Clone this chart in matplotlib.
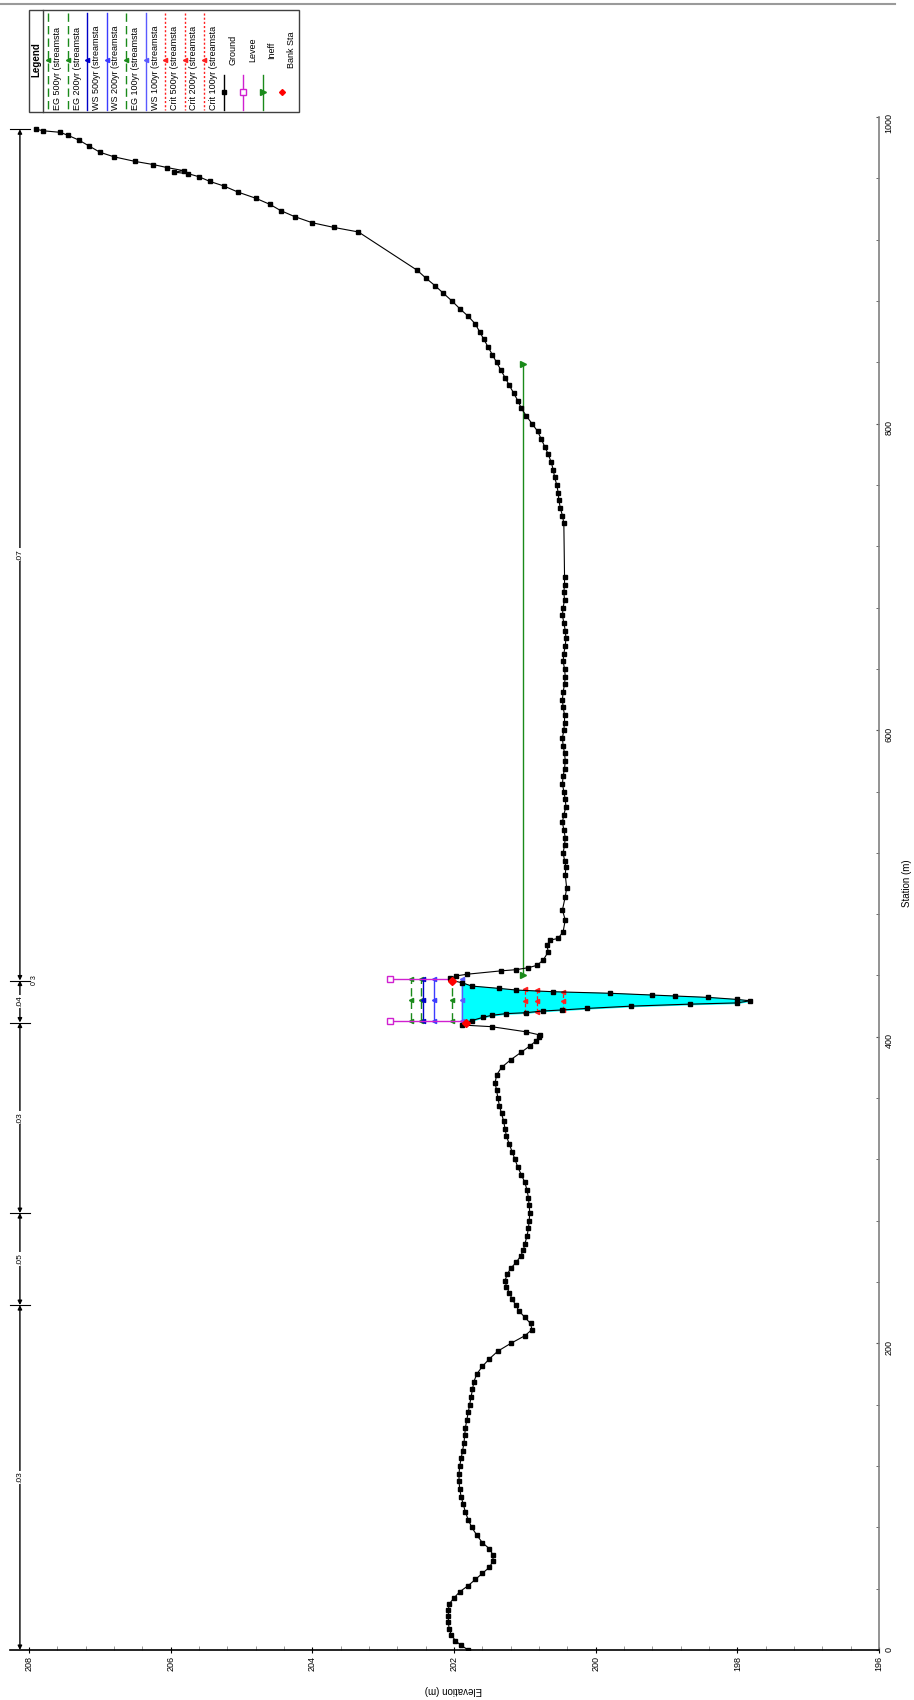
import matplotlib.pyplot as plt
from matplotlib.patches import Rectangle
import numpy as np

plt.rcParams['font.family'] = ['Liberation Sans', 'DejaVu Sans']

# Ground profile (station m, elevation m)
station = [0, 3, 6, 10, 14, 18, 22, 26, 30, 34, 38, 42, 46, 50, 54, 58, 62, 66, 70, 75,
           80, 85, 90, 95, 100, 105, 110, 115, 120, 125, 130, 135, 140, 145, 150, 155, 160,
           165, 170, 175, 180, 185, 190, 195, 200, 205, 209, 213, 217, 221, 225, 229, 233,
           237, 241, 245, 249, 253, 257, 261, 265, 270, 275, 280, 285, 290, 295, 300, 305,
           310, 315, 320, 325, 330, 335, 340, 345, 350, 355, 360, 365, 370, 375, 380, 385,
           390, 394, 397, 400, 401.2, 403.3, 406.6, 407.7, 409.3, 410.6, 412.7, 414.0,
           415.1, 415.7, 416.8, 417.5, 418.5, 420.0, 421.3, 422.1, 423.5, 424.4, 425.7,
           426.6, 427.3, 428.4, 429.4, 430.5, 431.6, 433.1, 435.3, 436.7, 438.1, 439.7,
           440.8, 443.0, 443.8, 445.1, 446.6, 450.1, 455.5, 459.9, 463.1, 464.2, 468.6,
           476.2, 482.7, 491.4, 497, 505.7, 511, 515, 520, 525, 530, 535, 540, 545, 550,
           555, 560, 565, 570, 575, 580, 585, 590, 595, 600, 605, 610, 615, 620, 625, 630,
           635, 640, 645, 650, 655, 660, 665, 670, 675, 680, 685, 690, 695, 700, 735, 740,
           745, 750, 755, 760, 765, 770, 775, 780, 785, 790, 795, 800, 805, 810, 815, 820,
           825, 830, 835, 840, 845, 850, 855, 860, 865, 870, 875, 880, 885, 890, 895, 900,
           925, 928, 931, 935, 939, 943, 947, 951, 955, 958, 961, 963, 964, 965, 967, 969,
           971, 974, 977, 981, 985, 988, 990, 991, 992]
elevation = [201.80, 201.90, 201.98, 202.04, 202.07, 202.08, 202.08, 202.08, 202.07, 202.00,
             201.92, 201.80, 201.70, 201.60, 201.50, 201.45, 201.45, 201.50, 201.60, 201.68,
             201.75, 201.80, 201.84, 201.87, 201.90, 201.92, 201.93, 201.93, 201.92, 201.90,
             201.88, 201.86, 201.85, 201.84, 201.82, 201.80, 201.78, 201.76, 201.74, 201.72,
             201.68, 201.60, 201.50, 201.38, 201.20, 201.00, 200.90, 200.92, 201.00, 201.08,
             201.13, 201.18, 201.22, 201.26, 201.28, 201.25, 201.20, 201.12, 201.06, 201.02,
             201.00, 200.97, 200.95, 200.94, 200.93, 200.94, 200.95, 200.97, 201.00, 201.05,
             201.10, 201.14, 201.18, 201.22, 201.26, 201.28, 201.30, 201.33, 201.36, 201.38,
             201.40, 201.42, 201.40, 201.33, 201.20, 201.05, 200.93, 200.85, 200.80, 200.79,
             200.99, 201.47, 201.89, 201.83, 201.75, 201.59, 201.47, 201.27, 200.99, 200.75,
             200.48, 200.13, 199.50, 198.67, 198.01, 197.82, 198.01, 198.41, 198.88, 199.21,
             199.80, 200.60, 201.12, 201.37, 201.75, 201.89, 202.03, 202.06, 201.97, 201.82,
             201.34, 201.12, 200.95, 200.83, 200.74, 200.67, 200.69, 200.64, 200.53, 200.46,
             200.43, 200.47, 200.43, 200.41, 200.43, 200.42, 200.44, 200.46, 200.44, 200.43,
             200.45, 200.47, 200.45, 200.42, 200.43, 200.45, 200.47, 200.46, 200.44, 200.43,
             200.44, 200.46, 200.47, 200.45, 200.44, 200.44, 200.46, 200.47, 200.46, 200.44,
             200.43, 200.44, 200.46, 200.45, 200.43, 200.42, 200.43, 200.45, 200.47, 200.46,
             200.44, 200.45, 200.44, 200.44, 200.45, 200.47, 200.50, 200.52, 200.53, 200.55,
             200.58, 200.60, 200.63, 200.67, 200.72, 200.77, 200.82, 200.90, 200.98, 201.05,
             201.10, 201.16, 201.22, 201.28, 201.34, 201.40, 201.46, 201.52, 201.58, 201.64,
             201.70, 201.80, 201.92, 202.03, 202.15, 202.27, 202.40, 202.52, 203.35, 203.70,
             204.00, 204.25, 204.45, 204.60, 204.80, 205.05, 205.25, 205.45, 205.60, 205.75,
             205.95, 205.82, 206.05, 206.25, 206.50, 206.80, 207.00, 207.15, 207.30, 207.45,
             207.56, 207.80, 207.90]

# Water surfaces across the channel (between levees)
ws_names = ['EG 500yr', 'EG 200yr', 'WS 500yr', 'WS 200yr', 'EG 100yr', 'WS 100yr']
ws_elev = [202.61, 202.46, 202.44, 202.29, 202.03, 201.89]
ws_sta = [410, 424, 438]

# Critical depth lines (elevation, left station, right station)
crit_names = ['Crit 500yr', 'Crit 200yr', 'Crit 100yr']
crit_elev = [201.00, 200.83, 200.46]
crit_left = [415.5, 416.3, 417.5]
crit_right = [431.0, 430.3, 429.4]

# Banks, levees, ineffective area
bank_sta = [409.3, 436.7]
bank_elev = [201.83, 202.03]
levee_sta = [410, 438]
levee_base = [201.89, 202.03]
levee_top = [202.9, 202.9]
ineff_sta = [440, 839]
ineff_elev = 201.02

# Manning's n
n_breaks = [0, 225, 285, 409.3, 436.7, 992]
n_values = ['.03', '.05', '.03', '.04', '.07']

W, H = 914, 1700
fig = plt.figure(figsize=(W / 100, H / 100), dpi=100)
ax = fig.add_axes([10 / W, 50 / H, 869 / W, 1533 / H])

st = np.array(station)
el = np.array(elevation)

# water fill in channel
m = (st >= bank_sta[0]) & (st <= bank_sta[1])
ax.fill_betweenx(st[m], el[m], ws_elev[5], where=el[m] <= ws_elev[5],
                 color='#00ffff', interpolate=True, zorder=1)

ws_style = {
    'EG 500yr': dict(color='#1a8a1a', ls=(0, (6, 3)), marker='<'),
    'EG 200yr': dict(color='#1a8a1a', ls=(0, (6, 3)), marker='<'),
    'WS 500yr': dict(color='#0000c8', ls='-', marker='<'),
    'WS 200yr': dict(color='#3c3cff', ls='-', marker='<'),
    'EG 100yr': dict(color='#1a8a1a', ls=(0, (6, 3)), marker='<'),
    'WS 100yr': dict(color='#5a5aff', ls='-', marker='<'),
}
for name, e in zip(ws_names, ws_elev):
    s = ws_style[name]
    ax.plot([e] * len(ws_sta), ws_sta, color=s['color'], ls=s['ls'], lw=1,
            marker=s['marker'], ms=3, zorder=3)

for e, a, b in zip(crit_elev, crit_left, crit_right):
    ax.plot([e, e, e], [a, (a + b) / 2, b], color='#ff2020', ls=(0, (3, 2)), lw=0.9,
            marker='<', ms=3, zorder=3)

# ground
ax.plot(el, st, color='black', lw=0.8, marker='s', ms=3.3, zorder=4)

# levees
for s, b, t in zip(levee_sta, levee_base, levee_top):
    ax.plot([b, t], [s, s], color='#d020d0', lw=1, zorder=3)
    ax.plot([t], [s], marker='s', ms=5, mfc='white', mec='#d020d0', zorder=5)

# ineffective flow
ax.plot([ineff_elev, ineff_elev], ineff_sta, color='#1a8a1a', lw=1, marker='>', ms=5,
        zorder=3)

# bank stations
ax.plot(bank_elev, bank_sta, ls='none', marker='D', ms=4, color='#ff0000', zorder=6)

# Manning's n bar
n_x = 208.13
for a, b, lab in zip(n_breaks[:-1], n_breaks[1:], n_values):
    ax.annotate('', xy=(n_x, b), xytext=(n_x, a),
                arrowprops=dict(arrowstyle='<|-|>', color='black', lw=1,
                                mutation_scale=6, shrinkA=0, shrinkB=0))
    ax.text(n_x, (a + b) / 2, lab, rotation=90, ha='center', va='center', fontsize=6,
            bbox=dict(fc='white', ec='none', pad=0.5), zorder=6)
for b in n_breaks[1:]:
    ax.plot([208.27, 207.99], [b, b], color='black', lw=0.8, clip_on=False)
ax.text(207.92, 436.7, '0 3', rotation=90, ha='center', va='center', fontsize=5)

ax.set_xlim(208.27, 196)
ax.set_ylim(0, 1000)
ax.set_xticks(np.arange(196, 209, 2))
ax.set_xticks(np.arange(196, 208.2, 0.4), minor=True)
ax.set_yticks(np.arange(0, 1001, 200))
ax.set_yticks(np.arange(0, 1001, 40), minor=True)
ax.yaxis.tick_right()
for sp in ['top', 'left']:
    ax.spines[sp].set_visible(False)
ax.spines['bottom'].set_linewidth(1.2)
ax.spines['right'].set_color('#808080')
ax.spines['right'].set_linewidth(1.2)
ax.tick_params(axis='x', which='major', direction='inout', length=5, labelsize=6.5,
               labelrotation=90, pad=2)
ax.tick_params(axis='x', which='minor', direction='in', length=3, color='#888888')
ax.tick_params(axis='y', which='both', direction='in', length=2.5, color='#555555',
               labelsize=6.5, labelrotation=90, pad=4)
ax.patch.set_alpha(0)

fig.text(453 / W, 1 - 1690 / H, 'Elevation (m)', rotation=180, ha='center', va='center',
         fontsize=7)
fig.text(907 / W, 1 - 883 / H, 'Station (m)', rotation=90, ha='center', va='center',
         fontsize=7)

# Rotated legend drawn in pixel space
ov = fig.add_axes([0, 0, 1, 1], zorder=10)
ov.set_xlim(0, W)
ov.set_ylim(H, 0)
ov.axis('off')
ov.plot([0, 895], [4, 4], color='#9a9a9a', lw=1.5)
ov.add_patch(Rectangle((29, 10), 270, 102, fill=False, ec='#404040', lw=1))
ov.plot([43, 43], [10, 112], color='#404040', lw=1)
ov.text(36, 60, 'Legend', rotation=90, ha='center', va='center', fontsize=7,
        fontweight='bold')

leg_names = ws_names[:5] + ['WS 100yr'] + crit_names
leg_style = [ws_style[n] for n in ws_names] + [dict(color='#ff2020', ls=(0, (1.5, 1.5)),
                                                    marker='<')] * 3
for i, (name, s) in enumerate(zip(leg_names, leg_style)):
    x = 48 + 19.5 * i
    ov.plot([x, x], [13, 110], color=s['color'], ls=s['ls'], lw=1)
    ov.plot([x], [60], marker=s['marker'], color=s['color'], ms=3)
    ov.text(x + 9.5, 110, name + ' (streamsta', rotation=90, ha='center', va='bottom',
            fontsize=6.5)

extra = ['Ground', 'Levee', 'Ineff', 'Bank Sta']
for j, name in enumerate(extra):
    x = 48 + 19.5 * (9 + j)
    if name == 'Ground':
        ov.plot([x, x], [75, 110], color='black', lw=1)
        ov.plot([x], [92], marker='s', color='black', ms=3)
    elif name == 'Levee':
        ov.plot([x, x], [75, 110], color='#d020d0', lw=1)
        ov.plot([x], [92], marker='s', mfc='white', mec='#d020d0', ms=4)
    elif name == 'Ineff':
        ov.plot([x, x], [75, 110], color='#1a8a1a', lw=1)
        ov.plot([x], [92], marker='>', color='#1a8a1a', ms=4)
    else:
        ov.plot([x], [92], marker='D', color='#ff0000', ms=3)
    ov.text(x + 9.5, 50, name, rotation=90, ha='center', va='center', fontsize=6.5)

fig.savefig('out.png', dpi=100)
